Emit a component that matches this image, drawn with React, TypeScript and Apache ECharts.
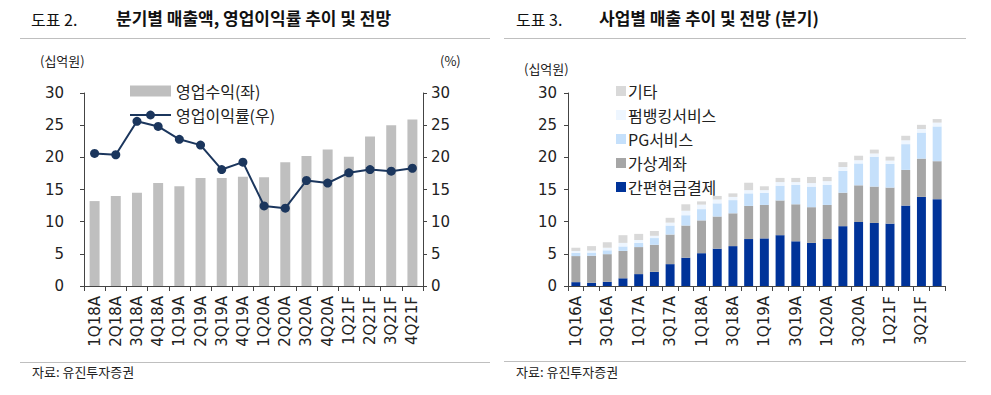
import React, { useEffect, useRef } from "react";
import * as echarts from "echarts";

const leftCategories = ["1Q18A", "2Q18A", "3Q18A", "4Q18A", "1Q19A", "2Q19A", "3Q19A", "4Q19A", "1Q20A", "2Q20A", "3Q20A", "4Q20A", "1Q21F", "2Q21F", "3Q21F", "4Q21F"];
const operatingRevenue = [13.2, 14.0, 14.5, 16.0, 15.5, 16.8, 16.8, 17.0, 16.9, 19.25, 20.2, 21.2, 20.1, 23.25, 25.0, 25.9];
const operatingMargin = [20.6, 20.4, 25.6, 24.8, 22.8, 21.9, 18.1, 19.25, 12.45, 12.1, 16.4, 16.0, 17.6, 18.1, 17.85, 18.3];

const rightCategories = ["1Q16A", "2Q16A", "3Q16A", "4Q16A", "1Q17A", "2Q17A", "3Q17A", "4Q17A", "1Q18A", "2Q18A", "3Q18A", "4Q18A", "1Q19A", "2Q19A", "3Q19A", "4Q19A", "1Q20A", "2Q20A", "3Q20A", "4Q20A", "1Q21F", "2Q21F", "3Q21F", "4Q21F"];
const simplePay = [0.6, 0.5, 0.65, 1.2, 1.85, 2.2, 3.4, 4.4, 5.1, 5.8, 6.2, 7.3, 7.4, 7.9, 6.95, 6.7, 7.3, 9.3, 9.95, 9.8, 9.7, 12.5, 13.85, 13.5];
const virtualAccount = [4.05, 4.2, 4.3, 4.25, 4.2, 4.2, 4.6, 5.0, 5.1, 5.0, 5.1, 5.15, 5.2, 5.4, 5.75, 5.55, 5.3, 5.2, 5.7, 5.65, 5.6, 5.55, 5.95, 5.9];
const pgService = [0.5, 0.5, 0.6, 0.7, 0.65, 1.05, 1.4, 1.6, 1.75, 2.05, 2.05, 1.95, 1.9, 2.3, 3.0, 3.2, 3.1, 3.4, 3.4, 4.65, 3.7, 4.0, 4.05, 5.4];
const firmBanking = [0.3, 0.3, 0.4, 0.55, 0.45, 0.35, 0.45, 0.7, 0.7, 0.6, 0.5, 0.5, 0.4, 0.55, 0.45, 0.55, 0.6, 0.6, 0.5, 0.5, 0.5, 0.6, 0.55, 0.6];
const others = [0.5, 0.7, 0.85, 1.2, 0.95, 0.75, 0.75, 1.0, 0.5, 0.55, 0.55, 1.15, 0.6, 0.65, 0.65, 0.95, 0.65, 0.75, 0.7, 0.6, 0.6, 0.7, 0.65, 0.55];

const yTicks = { min: 0, max: 30, interval: 5 };

const FONT = "'Noto Sans CJK KR', 'Noto Sans', sans-serif";
const NUMFONT = "'DejaVu Sans', sans-serif";
const TXT = "#222";
const AXIS = "#444";

export default function App() {
  const ref = useRef<HTMLDivElement>(null);
  useEffect(() => {
    if (!ref.current) return;
    const chart = echarts.init(ref.current, null, { renderer: "svg" });
    const axisLine = { show: true, lineStyle: { color: AXIS, width: 1 } };
    const axisTick = { show: true, length: 5, lineStyle: { color: AXIS } };
    const xLabel = { rotate: 90, fontSize: 15, color: TXT, fontFamily: NUMFONT, margin: 10 };
    const yLabel = { fontSize: 15, color: TXT, fontFamily: NUMFONT };
    chart.setOption({
      animation: false,
      backgroundColor: "#fff",
      textStyle: { fontFamily: FONT },
      grid: [
        { left: 84, right: 568, top: 93, bottom: 109 },
        { left: 568, right: 46, top: 93, bottom: 109 },
      ],
      xAxis: [
        { type: "category", gridIndex: 0, data: leftCategories, boundaryGap: true, axisLine, axisTick: { ...axisTick, interval: 0 }, axisLabel: { ...xLabel, interval: 0 } },
        { type: "category", gridIndex: 1, data: rightCategories, boundaryGap: true, axisLine, axisTick: { ...axisTick, interval: 0 }, axisLabel: { ...xLabel, interval: 1 } },
      ],
      yAxis: [
        { type: "value", gridIndex: 0, position: "left", ...yTicks, axisLine, axisTick: { ...axisTick, length: 4 }, splitLine: { show: false }, axisLabel: { ...yLabel, margin: 20 } },
        { type: "value", gridIndex: 0, position: "right", ...yTicks, axisLine, axisTick: { ...axisTick, length: 4 }, splitLine: { show: false }, axisLabel: { ...yLabel, margin: 8 } },
        { type: "value", gridIndex: 1, position: "left", ...yTicks, axisLine, axisTick: { ...axisTick, length: 4 }, splitLine: { show: false }, axisLabel: { ...yLabel, margin: 11 } },
      ],
      legend: [
        {
          left: 124, top: 78, orient: "vertical", itemWidth: 41, itemHeight: 11, itemGap: 8,
          textStyle: { fontSize: 16, color: TXT, fontFamily: FONT, lineHeight: 16 },
          data: [{ name: "영업수익(좌)", icon: "rect" }, { name: "영업이익률(우)" }],
        },
        {
          left: 611, top: 78, orient: "vertical", itemWidth: 10, itemHeight: 10, itemGap: 8, itemStyle: { borderWidth: 0 },
          textStyle: { fontSize: 16, color: TXT, fontFamily: FONT, lineHeight: 16, padding: [0, 0, 0, -3] },
          data: ["기타", "펌뱅킹서비스", "PG서비스", "가상계좌", "간편현금결제"].map((n) => ({ name: n, icon: "rect" })),
        },
      ],
      series: [
        { name: "영업수익(좌)", type: "bar", xAxisIndex: 0, yAxisIndex: 0, data: operatingRevenue, barWidth: "47%", itemStyle: { color: "#bfbfbf" } },
        {
          name: "영업이익률(우)", type: "line", xAxisIndex: 0, yAxisIndex: 1, data: operatingMargin,
          symbol: "circle", symbolSize: 9, lineStyle: { color: "#1b365d", width: 2 }, itemStyle: { color: "#1b365d" },
        },
        { name: "간편현금결제", type: "bar", stack: "s", xAxisIndex: 1, yAxisIndex: 2, data: simplePay, barWidth: "57%", itemStyle: { color: "#003399" } },
        { name: "가상계좌", type: "bar", stack: "s", xAxisIndex: 1, yAxisIndex: 2, data: virtualAccount, barWidth: "57%", itemStyle: { color: "#a6a6a6" } },
        { name: "PG서비스", type: "bar", stack: "s", xAxisIndex: 1, yAxisIndex: 2, data: pgService, barWidth: "57%", itemStyle: { color: "#c5e0fb" } },
        { name: "펌뱅킹서비스", type: "bar", stack: "s", xAxisIndex: 1, yAxisIndex: 2, data: firmBanking, barWidth: "57%", itemStyle: { color: "#eef6ff" } },
        { name: "기타", type: "bar", stack: "s", xAxisIndex: 1, yAxisIndex: 2, data: others, barWidth: "57%", itemStyle: { color: "#d9d9d9" } },
      ],
      graphic: [
        { type: "text", left: 31, top: 11, style: { text: "도표 2.", fontSize: 16, fill: "#111", fontFamily: FONT } },
        { type: "text", left: 116, top: 9, style: { text: "분기별 매출액, 영업이익률 추이 및 전망", fontSize: 17, fontWeight: "bold", fill: "#111", fontFamily: FONT } },
        { type: "line", shape: { x1: 20, y1: 38.5, x2: 490, y2: 38.5 }, style: { stroke: "#bfbfbf", lineWidth: 1 } },
        { type: "text", left: 516, top: 11, style: { text: "도표 3.", fontSize: 16, fill: "#111", fontFamily: FONT } },
        { type: "text", left: 599, top: 9, style: { text: "사업별 매출 추이 및 전망 (분기)", fontSize: 17, fontWeight: "bold", fill: "#111", fontFamily: FONT } },
        { type: "line", shape: { x1: 504, y1: 38.5, x2: 966, y2: 38.5 }, style: { stroke: "#bfbfbf", lineWidth: 1 } },
        { type: "text", left: 40, top: 54, style: { text: "(십억원)", fontSize: 13, fill: TXT, fontFamily: FONT } },
        { type: "text", left: 440, top: 54, style: { text: "(%)", fontSize: 13, fill: TXT, fontFamily: FONT } },
        { type: "text", left: 524, top: 62, style: { text: "(십억원)", fontSize: 13, fill: TXT, fontFamily: FONT } },
        { type: "line", shape: { x1: 20, y1: 362.5, x2: 490, y2: 362.5 }, style: { stroke: "#bfbfbf", lineWidth: 1 } },
        { type: "line", shape: { x1: 504, y1: 361.5, x2: 966, y2: 361.5 }, style: { stroke: "#bfbfbf", lineWidth: 1 } },
        { type: "text", left: 32, top: 365, style: { text: "자료: 유진투자증권", fontSize: 13, fill: TXT, fontFamily: FONT } },
        { type: "text", left: 516, top: 365, style: { text: "자료: 유진투자증권", fontSize: 13, fill: TXT, fontFamily: FONT } },
      ],
    });
    return () => chart.dispose();
  }, []);
  return <div ref={ref} style={{ position: "absolute", left: 0, top: 0, width: 991, height: 395, background: "#fff" }} />;
}
